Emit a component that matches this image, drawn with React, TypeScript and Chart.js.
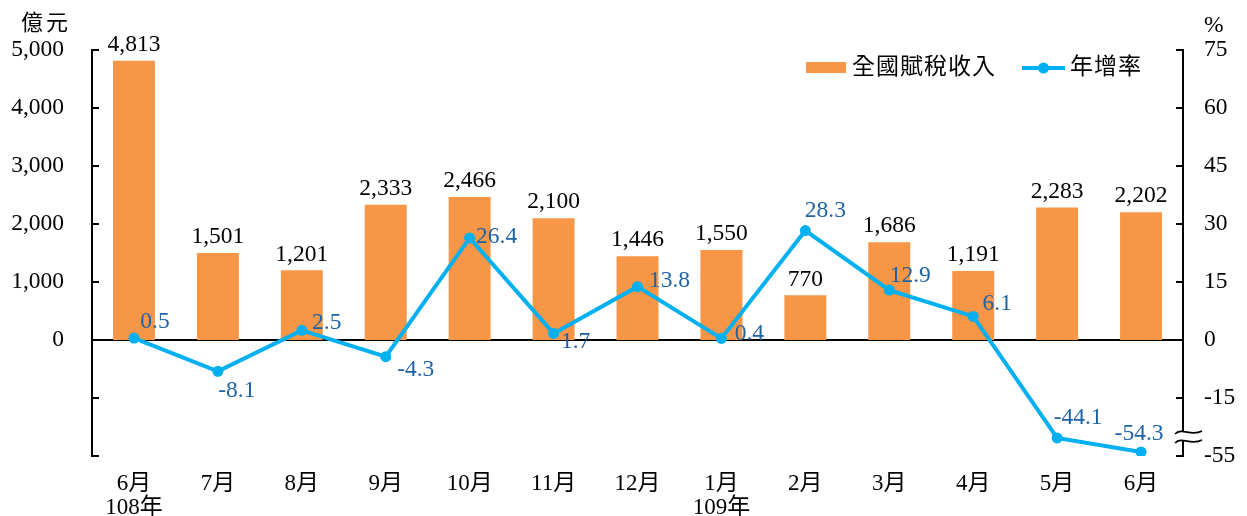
import React, { useEffect, useRef } from "react";
import { Chart, registerables } from "chart.js";

Chart.register(...registerables);

// ---------- data ----------
const categories: string[][] = [
  ["6月", "108年"], ["7月"], ["8月"], ["9月"], ["10月"], ["11月"], ["12月"],
  ["1月", "109年"], ["2月"], ["3月"], ["4月"], ["5月"], ["6月"],
];
const revenue = [4813, 1501, 1201, 2333, 2466, 2100, 1446, 1550, 770, 1686, 1191, 2283, 2202];
const growth = [0.5, -8.1, 2.5, -4.3, 26.4, 1.7, 13.8, 0.4, 28.3, 12.9, 6.1, -44.1, -54.3];
const seriesNames = ["全國賦稅收入", "年增率"];
const leftUnit = "億元";
const rightUnit = "%";
const rightBreakLabel = "-55"; // label shown at the bottom of the broken right axis

// ---------- styling ----------
const FONT = "'Liberation Serif', 'Noto Sans CJK TC', serif";
const NUM_SIZE = 23.5;
const BAR_COLOR = "#F79646";
const LINE_COLOR = "#00B0F0";
const LABEL_BLUE = "#1E62A6";
const BREAK_FROM = -15;
const BREAK_FACTOR = 0.355;
const breakAxis = (v: number) => (v >= BREAK_FROM ? v : BREAK_FROM + (v - BREAK_FROM) * BREAK_FACTOR);

// label offsets (px) for the growth-rate labels, relative to each point
const growthLabelOffsets: [number, number][] = [
  [21, -16], [19, 20], [25, -8], [30, 13], [27, -1], [22, 8], [32, -6],
  [28, -5], [20, -20], [21, -14], [24, -13], [21, -20], [-2, -18],
];

const decorPlugin = {
  id: "decor",
  beforeDatasetsDraw(chart: any) {
    const { ctx, chartArea } = chart;
    const y0 = Math.round(chart.scales.y.getPixelForValue(0));
    ctx.save();
    ctx.strokeStyle = "#000";
    ctx.lineWidth = 2;
    ctx.beginPath();
    ctx.moveTo(chartArea.left, y0);
    ctx.lineTo(chartArea.right, y0);
    ctx.stroke();
    ctx.restore();
  },
  afterDatasetsDraw(chart: any) {
    const { ctx } = chart;
    ctx.save();
    ctx.font = `${NUM_SIZE}px ${FONT}`;
    ctx.textAlign = "center";
    ctx.textBaseline = "middle";
    // bar labels
    const barMeta = chart.getDatasetMeta(0);
    ctx.fillStyle = "#000";
    barMeta.data.forEach((el: any, i: number) => {
      ctx.fillText(revenue[i].toLocaleString("en-US"), el.x, el.y - 16);
    });
    // line labels
    const lineMeta = chart.getDatasetMeta(1);
    ctx.fillStyle = LABEL_BLUE;
    lineMeta.data.forEach((el: any, i: number) => {
      const [dx, dy] = growthLabelOffsets[i];
      ctx.fillText(growth[i].toFixed(1), el.x + dx, el.y + dy);
    });
    ctx.restore();
  },
  afterDraw(chart: any) {
    const { ctx, chartArea } = chart;
    const { left, right, top, bottom } = chartArea;
    const yL = chart.scales.y;
    const yR = chart.scales.y1;
    ctx.save();
    ctx.strokeStyle = "#000";
    ctx.lineWidth = 2;
    const line = (x1: number, y1: number, x2: number, y2: number) => {
      ctx.beginPath();
      ctx.moveTo(x1, y1);
      ctx.lineTo(x2, y2);
      ctx.stroke();
    };
    line(left, top - 1, left, bottom + 1);
    line(right, top - 1, right, bottom + 1);
    yL.ticks.forEach((t: any) => {
      const py = Math.round(yL.getPixelForValue(t.value));
      line(left, py, left + 7, py);
    });
    yR.ticks.forEach((t: any) => {
      const py = Math.round(yR.getPixelForValue(t.value));
      line(right - 7, py, right, py);
    });
    // axis break symbol on right axis
    const by1 = 432, by2 = 441;
    ctx.fillStyle = "#fff";
    ctx.fillRect(right - 3, by1, 6, by2 - by1);
    ctx.lineWidth = 1.6;
    [by1, by2].forEach((by) => {
      ctx.beginPath();
      ctx.moveTo(right - 8, by + 2);
      ctx.bezierCurveTo(right - 1, by - 5, right + 8, by + 5, right + 19, by - 1);
      ctx.stroke();
    });

    // axis unit titles
    ctx.fillStyle = "#000";
    ctx.textBaseline = "middle";
    ctx.textAlign = "left";
    ctx.font = `22px ${FONT}`;
    (ctx as any).letterSpacing = "3px";
    ctx.fillText(leftUnit, 21, 24);
    (ctx as any).letterSpacing = "0px";
    ctx.font = `${NUM_SIZE}px ${FONT}`;
    ctx.fillText(rightUnit, 1204, 26);

    // legend
    const ly = 68;
    ctx.fillStyle = BAR_COLOR;
    ctx.fillRect(806, 62, 40, 11);
    ctx.fillStyle = "#000";
    ctx.font = `23px ${FONT}`;
    (ctx as any).letterSpacing = "1px";
    ctx.fillText(seriesNames[0], 852, ly);
    ctx.strokeStyle = LINE_COLOR;
    ctx.lineWidth = 4;
    line(1022, ly, 1065, ly);
    ctx.fillStyle = LINE_COLOR;
    ctx.beginPath();
    ctx.arc(1043.5, ly, 5.5, 0, Math.PI * 2);
    ctx.fill();
    ctx.fillStyle = "#000";
    ctx.fillText(seriesNames[1], 1070, ly);
    (ctx as any).letterSpacing = "0px";
    ctx.restore();
  },
};

export default function App() {
  const ref = useRef<HTMLCanvasElement | null>(null);
  useEffect(() => {
    if (!ref.current) return;
    const chart = new Chart(ref.current, {
      type: "bar",
      data: {
        labels: categories,
        datasets: [
          {
            type: "bar",
            label: seriesNames[0],
            data: revenue,
            backgroundColor: BAR_COLOR,
            yAxisID: "y",
            barPercentage: 0.5,
            categoryPercentage: 1.0,
            order: 1,
          },
          {
            type: "line",
            label: seriesNames[1],
            data: growth.map(breakAxis),
            borderColor: LINE_COLOR,
            backgroundColor: LINE_COLOR,
            borderWidth: 4,
            pointRadius: 5.5,
            pointBorderWidth: 0,
            pointBackgroundColor: LINE_COLOR,
            tension: 0,
            yAxisID: "y1",
            order: 0,
          } as any,
        ],
      },
      options: {
        responsive: false,
        animation: false,
        devicePixelRatio: 1,
        layout: { padding: { top: 50, left: 0, right: 0, bottom: 0 } },
        plugins: { legend: { display: false }, tooltip: { enabled: false } },
        scales: {
          x: {
            offset: true,
            grid: { display: false, drawTicks: false },
            border: { display: false },
            ticks: {
              font: { family: FONT, size: 23, lineHeight: 1.05 },
              color: "#000",
              padding: 16,
              maxRotation: 0,
              autoSkip: false,
            },
            afterFit: (s: any) => { s.height = 60; },
          },
          y: {
            position: "left",
            min: -2000,
            max: 5000,
            grid: { display: false, drawTicks: false },
            border: { display: false },
            ticks: {
              stepSize: 1000,
              font: { family: FONT, size: NUM_SIZE },
              color: "#000",
              padding: 28,
              callback: (v: any) => (v < 0 ? "" : Number(v).toLocaleString("en-US")),
            },
            afterFit: (s: any) => { s.width = 92; },
          },
          y1: {
            position: "right",
            min: -30,
            max: 75,
            grid: { display: false, drawTicks: false },
            border: { display: false },
            ticks: {
              stepSize: 15,
              font: { family: FONT, size: NUM_SIZE },
              color: "#000",
              padding: 21,
              callback: (v: any) => (v === -30 ? rightBreakLabel : String(v)),
            },
            afterFit: (s: any) => { s.width = 64; },
          },
        },
      },
      plugins: [decorPlugin],
    });
    return () => chart.destroy();
  }, []);
  return (
    <div style={{ position: "absolute", left: 0, top: 0, width: 1247, height: 516, background: "#fff" }}>
      <canvas ref={ref} width={1247} height={516} style={{ display: "block" }} />
    </div>
  );
}
